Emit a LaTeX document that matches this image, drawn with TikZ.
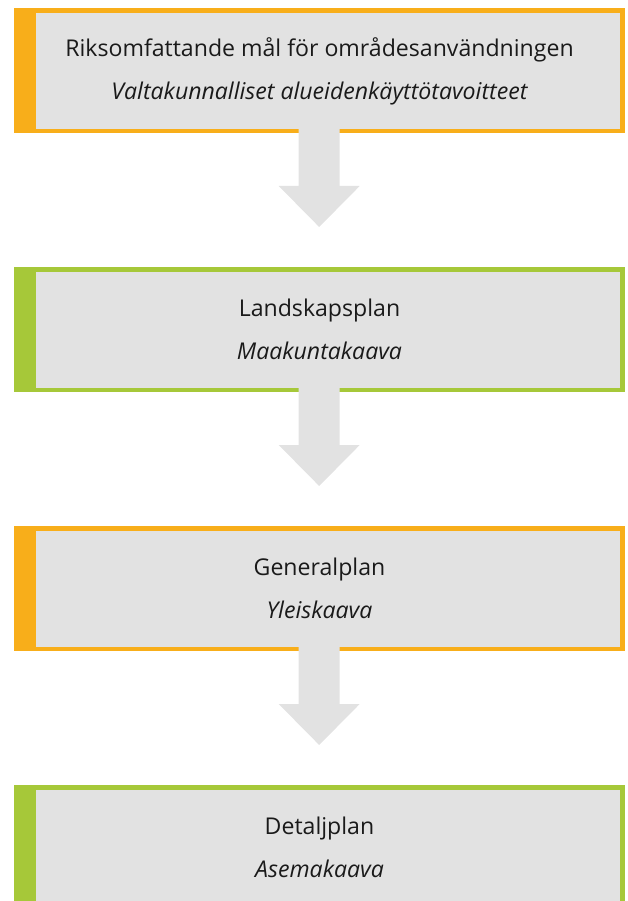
\documentclass[tikz,border=0pt]{standalone}
\usepackage{fontspec}
\setmainfont{Open Sans}
\usetikzlibrary{calc}
\definecolor{cOrange}{HTML}{F8AE1A}
\definecolor{cGreen}{HTML}{A6C839}
\definecolor{cFill}{HTML}{E2E2E2}
\definecolor{cText}{HTML}{1A1A1A}
\tikzset{
  outerbox/.style={fill=#1, draw=none, minimum width=611pt, minimum height=125pt, inner sep=0pt, anchor=north west},
  innerbox/.style={fill=cFill, draw=none, minimum width=584pt, minimum height=116pt, inner sep=0pt, anchor=north west},
  lineone/.style={anchor=base, text=cText, font=\fontsize{23.1}{27}\selectfont, inner sep=0pt},
  linetwo/.style={anchor=base, text=cText, font=\fontsize{23.1}{27}\selectfont\itshape, inner sep=0pt},
  arrowshape/.style={fill=cFill, draw=none}
}
\begin{document}
\begin{tikzpicture}[x=1pt,y=-1pt]
\useasboundingbox (0,0) rectangle (627,901);
% boxes
\foreach \i/\c/\t/\s [count=\n] in {0/cOrange/{Riksomfattande mål för områdesanvändningen}/{Valtakunnalliset alueidenkäyttötavoitteet},
                                    259/cGreen/{Landskapsplan}/{Maakuntakaava},
                                    518/cOrange/{Generalplan}/{Yleiskaava},
                                    777/cGreen/{Detaljplan}/{Asemakaava}}{
  \node[outerbox=\c] (out\n) at (14,8+\i) {};
  \node[innerbox] (in\n) at (36,13+\i) {};
  \node[lineone] (ta\n) at (319.5,57+\i) {\t};
  \node[linetwo] (tb\n) at (319.5,100+\i) {\s};
}
% arrows between boxes
\foreach \a/\b in {1/2,2/3,3/4}{
  \path (out\a.south) ++(-0.5,-5) coordinate (s\a);
  \path (out\b.north) ++(-0.5,-40) coordinate (t\a);
  \fill[arrowshape] (s\a) ++(-20.5,0) -- ++(41,0) |- ($(t\a)+(20.5,-41)$) -- ++(20,0) -- (t\a) -- ++(-40.5,-41) -- ++(20,0) -- cycle;
}
\end{tikzpicture}
\end{document}
